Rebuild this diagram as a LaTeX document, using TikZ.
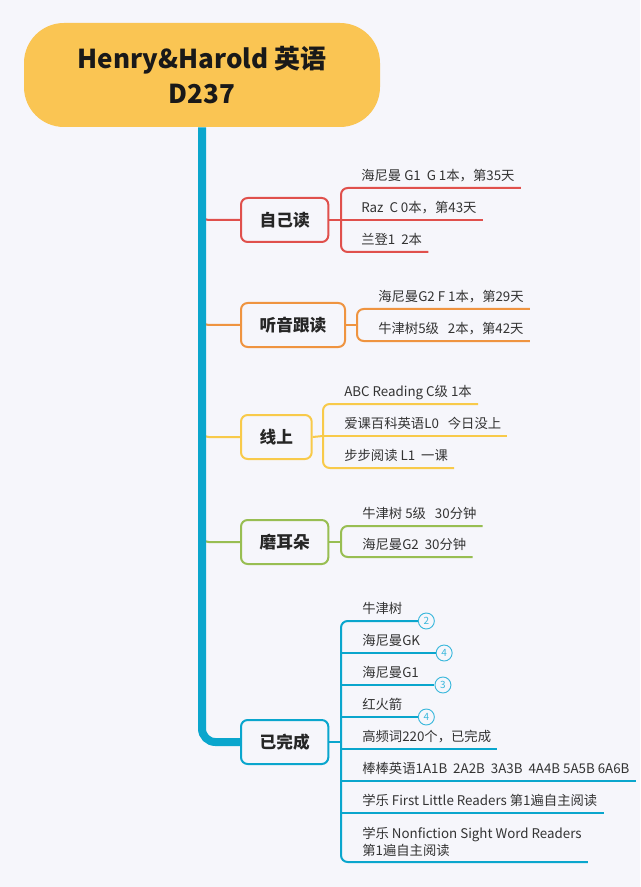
\documentclass[tikz,border=0pt]{standalone}
\usepackage{fontspec}
\setmainfont{Noto Sans CJK SC}
\usetikzlibrary{positioning}
\definecolor{bgc}{HTML}{F6F6FB}
\definecolor{titlec}{HTML}{FAC553}
\definecolor{trunkc}{HTML}{0AA6CD}
\definecolor{badgec}{HTML}{3BB8DC}
\definecolor{redc}{HTML}{E0504C}
\definecolor{orangec}{HTML}{EF9440}
\definecolor{yellowc}{HTML}{F8CA4A}
\definecolor{greenc}{HTML}{98BE52}

\begin{document}
\begin{tikzpicture}[x=0.75pt, y=-0.75pt,
    topic/.style={draw=#1, line width=1.5pt, fill=bgc, rounded corners=5pt, anchor=west, inner xsep=14pt, minimum height=33pt, text=black!85, font=\fontsize{12.5}{15}\selectfont\bfseries},
    leafbase/.style={anchor=south west, inner xsep=4.5pt, inner ysep=3.5pt, text=black!80, font=\fontsize{10}{12.8}\selectfont},
    leaf/.style={leafbase, text height=7.5pt, text depth=2pt},
    twig/.style={draw=#1, line width=1.5pt, rounded corners=5pt},
    badge/.style={circle, draw=badgec, line width=0.7pt, fill=bgc, minimum size=12pt, inner sep=0pt, text=badgec, font=\fontsize{7.5}{7.5}\selectfont}]
        \useasboundingbox (0,0) rectangle (640,887);
        \fill[bgc] (0,0) rectangle (640,887);
        % root
        \node[fill=titlec, rounded corners=30pt, minimum width=267pt, minimum height=78pt, align=center, text=black!90, font=\fontsize{19.5}{26}\selectfont\bfseries] (title) at (202,75) {Henry\&Harold 英语\\D237};
        % main topics
        \node[topic=redc] (zjd) at (240,220) {自己读};
        \node[topic=orangec] (tyg) at (240,325) {听音跟读};
        \node[topic=yellowc] (xs) at (240,437) {线上};
        \node[topic=greenc] (med) at (240,542) {磨耳朵};
        \node[topic=trunkc] (ywc) at (240,742) {已完成};
        % bracket points
        \coordinate (zjdb) at (341,220);
        \coordinate (tygb) at (357,325);
        \coordinate (xsb) at (323,436);
        \coordinate (medb) at (341,542);
        \coordinate (ywcb) at (341,742);
        % leaves
        \node[leaf] (zjd1) at (355,188) {海尼曼 G1\ \ G 1本，第35天};
        \node[leaf] (zjd2) at (355,220) {Raz\ \ C 0本，第43天};
        \node[leaf] (zjd3) at (355,252) {兰登1\ \ 2本};
        \node[leaf] (tyg1) at (372,309) {海尼曼G2 F 1本，第29天};
        \node[leaf] (tyg2) at (372,341) {牛津树5级\ \ \ 2本，第42天};
        \node[leaf] (xs1) at (338,404) {ABC Reading C级 1本};
        \node[leaf] (xs2) at (338,436) {爱课百科英语L0\ \ \ 今日没上};
        \node[leaf] (xs3) at (338,468) {步步阅读 L1\ \ 一课};
        \node[leaf] (med1) at (356,526) {牛津树 5级\ \ \ 30分钟};
        \node[leaf] (med2) at (356,557) {海尼曼G2\ \ 30分钟};
        \node[leaf] (ywc1) at (356,621) {牛津树};
        \node[leaf] (ywc2) at (356,653) {海尼曼GK};
        \node[leaf] (ywc3) at (356,685) {海尼曼G1};
        \node[leaf] (ywc4) at (356,717) {红火箭};
        \node[leaf] (ywc5) at (356,749) {高频词220个，已完成};
        \node[leaf] (ywc6) at (356,781) {棒棒英语1A1B\ \ 2A2B\ \ 3A3B\ \ 4A4B 5A5B 6A6B};
        \node[leaf] (ywc7) at (356,813) {学乐 First Little Readers 第1遍自主阅读};
        \node[leafbase, align=left, inner ysep=4pt] (ywc8) at (356,862) {学乐 Nonfiction Sight Word Readers\\第1遍自主阅读};
        % counters
        \node[badge, right=7pt of ywc1.south east] (c1) {2};
        \node[badge, right=7pt of ywc2.south east] (c2) {4};
        \node[badge, right=7pt of ywc3.south east] (c3) {3};
        \node[badge, right=7pt of ywc4.south east] (c4) {4};
        % branches off the trunk
        \draw[twig=redc] (202,206) |- (zjd.west);
        \draw[twig=orangec] (202,311) |- (tyg.west);
        \draw[twig=yellowc] (202,423) |- (xs.west);
        \draw[twig=greenc] (202,528) |- (med.west);
        \draw[trunkc, line width=6pt, rounded corners=10pt] (title.south) |- (ywc.west);
        % 自己读
        \draw[twig=redc] (zjd.east) -- (zjdb);
        \draw[twig=redc] (zjd1.south east) -| (zjdb) |- (zjd3.south east);
        \draw[twig=redc] (zjdb |- zjd2.south) -- (zjd2.south east);
        % 听音跟读
        \draw[twig=orangec] (tyg.east) -- (tygb);
        \draw[twig=orangec] (tyg1.south east) -| (tygb) |- (tyg2.south east);
        % 线上
        \draw[twig=yellowc] (xs.east) -- (xsb);
        \draw[twig=yellowc] (xs1.south east) -| (xsb) |- (xs3.south east);
        \draw[twig=yellowc] (xsb |- xs2.south) -- (xs2.south east);
        % 磨耳朵
        \draw[twig=greenc] (med.east) -- (medb);
        \draw[twig=greenc] (med1.south east) -| (medb) |- (med2.south east);
        % 已完成
        \draw[twig=trunkc] (ywc.east) -- (ywcb);
        \draw[twig=trunkc] (c1.west) -| (ywcb) |- (ywc8.south east);
        \draw[twig=trunkc] (ywcb |- c2.west) -- (c2.west);
        \draw[twig=trunkc] (ywcb |- c3.west) -- (c3.west);
        \draw[twig=trunkc] (ywcb |- c4.west) -- (c4.west);
        \draw[twig=trunkc] (ywcb |- ywc5.south) -- (ywc5.south east);
        \draw[twig=trunkc] (ywcb |- ywc6.south) -- (ywc6.south east);
        \draw[twig=trunkc] (ywcb |- ywc7.south) -- (ywc7.south east);
    \end{tikzpicture}
\end{document}
